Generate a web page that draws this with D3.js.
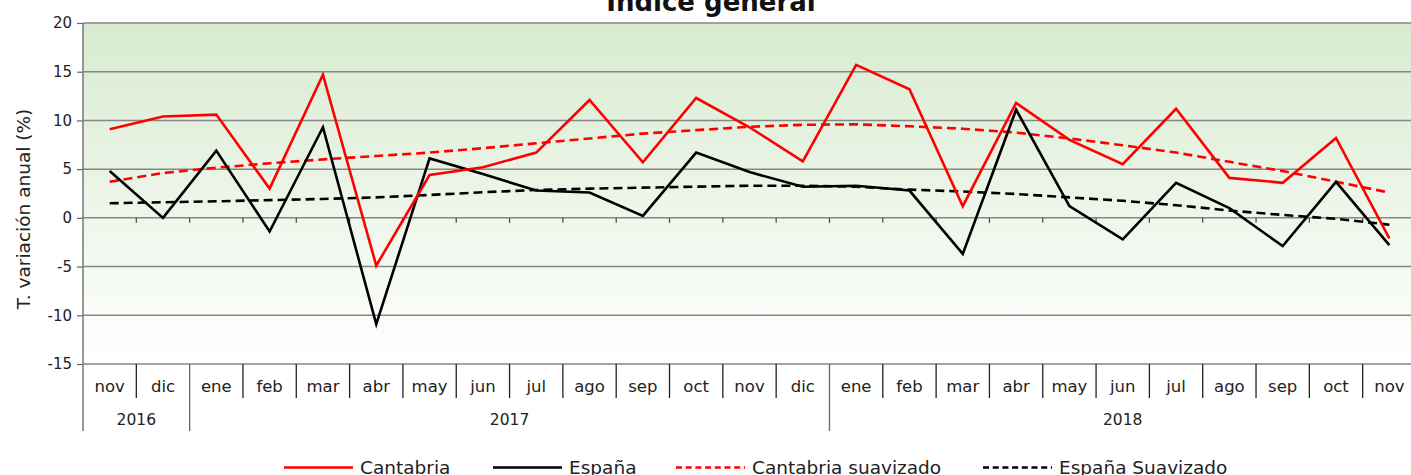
<!DOCTYPE html>
<html>
<head>
<meta charset="utf-8">
<script src="https://cdn.jsdelivr.net/npm/d3@7/dist/d3.min.js"></script>
<style>
  html, body { margin: 0; padding: 0; background: #ffffff; overflow: hidden; }
  svg { display: block; font-family: "DejaVu Sans", sans-serif; }
</style>
</head>
<body>
<svg id="chart" width="1411" height="475"></svg>
<script>
const months = ["nov","dic","ene","feb","mar","abr","may","jun","jul","ago","sep","oct","nov","dic","ene","feb","mar","abr","may","jun","jul","ago","sep","oct","nov"];
const yearOfMonth = [2016,2016,2017,2017,2017,2017,2017,2017,2017,2017,2017,2017,2017,2017,2018,2018,2018,2018,2018,2018,2018,2018,2018,2018,2018];
const yearLabels = ["2016","2017","2018"];
const yTicks = [-15,-10,-5,0,5,10,15,20];

const cantabria = [9.1,10.4,10.6,3.0,14.7,-4.9,4.4,5.2,6.7,12.1,5.7,12.3,9.3,5.8,15.7,13.2,1.2,11.8,8.0,5.5,11.2,4.1,3.6,8.2,-2.1];
const espana = [4.8,0.0,6.9,-1.4,9.3,-10.9,6.1,4.5,2.8,2.6,0.2,6.7,4.7,3.2,3.3,2.8,-3.7,11.1,1.2,-2.2,3.6,1.0,-2.9,3.7,-2.8];
const cantabriaSuav = [3.7,4.6,5.15,5.6,6.0,6.35,6.7,7.15,7.65,8.15,8.65,9.0,9.35,9.55,9.6,9.4,9.15,8.75,8.15,7.45,6.7,5.75,4.8,3.7,2.6];
const espanaSuav = [1.5,1.6,1.7,1.82,1.94,2.1,2.35,2.63,2.86,3.0,3.1,3.2,3.3,3.3,3.2,2.9,2.7,2.45,2.1,1.75,1.3,0.75,0.3,-0.1,-0.7];

const seriesNames = ["Cantabria","España","Cantabria suavizado","España Suavizado"];

const svg = d3.select("#chart");
const plotLeft = 83, plotRight = 1416, plotTop = 23, plotBottom = 364;

const x = d3.scaleBand().domain(d3.range(months.length)).range([plotLeft, plotRight]).padding(0);
const y = d3.scaleLinear().domain([-15, 20]).range([plotBottom, plotTop]);
const cx = i => x(i) + x.bandwidth() / 2;

// gradient background
const defs = svg.append("defs");
const grad = defs.append("linearGradient").attr("id","bg").attr("x1",0).attr("y1",0).attr("x2",0).attr("y2",1);
grad.append("stop").attr("offset","0%").attr("stop-color","#d8ebd0");
grad.append("stop").attr("offset","55%").attr("stop-color","#eef6ea");
grad.append("stop").attr("offset","100%").attr("stop-color","#ffffff");

svg.append("rect").attr("x", plotLeft).attr("y", plotTop).attr("width", plotRight-plotLeft).attr("height", plotBottom-plotTop).attr("fill","url(#bg)");

// gridlines
svg.append("g").selectAll("line").data(yTicks).join("line")
  .attr("x1", plotLeft).attr("x2", plotRight)
  .attr("y1", d => y(d)).attr("y2", d => y(d))
  .attr("stroke", "#868686").attr("stroke-width", 1.5);

// y axis
const yAxis = d3.axisLeft(y).tickValues(yTicks).tickFormat(d => String(d)).tickSize(6).tickPadding(5);
const gy = svg.append("g").attr("transform", `translate(${plotLeft},0)`).call(yAxis);
gy.select(".domain").remove();
gy.selectAll(".tick line").attr("stroke","#666").attr("stroke-width",1.2);
gy.selectAll(".tick text").attr("font-size", 15).attr("fill","#222").attr("font-family","DejaVu Sans");
svg.append("line").attr("x1", plotLeft).attr("x2", plotLeft).attr("y1", plotTop).attr("y2", 431)
  .attr("stroke","#777").attr("stroke-width",1.5);

// small ticks on zero line at category boundaries
const boundaries = d3.range(1, months.length).map(i => x(i));
svg.append("g").selectAll("line").data(boundaries).join("line")
  .attr("x1", d => d).attr("x2", d => d)
  .attr("y1", y(0)).attr("y2", y(0) + 5)
  .attr("stroke","#444").attr("stroke-width",1.2);

// month labels
svg.append("g").selectAll("text").data(months).join("text")
  .attr("x", (d,i) => cx(i)).attr("y", 392)
  .attr("text-anchor","middle").attr("font-size", 16.5).attr("fill","#222")
  .text(d => d);

const divs = d3.range(1, months.length);
svg.append("g").selectAll("line").data(divs).join("line")
  .attr("x1", i => x(i)).attr("x2", i => x(i))
  .attr("y1", plotBottom).attr("y2", i => yearOfMonth[i] !== yearOfMonth[i-1] ? 431 : 398)
  .attr("stroke", i => yearOfMonth[i] !== yearOfMonth[i-1] ? "#666" : "#222")
  .attr("stroke-width", 1.3);

// year labels
const yearGroups = yearLabels.map(lbl => {
  const idx = d3.range(months.length).filter(i => String(yearOfMonth[i]) === lbl);
  return {lbl, first: d3.min(idx), last: d3.max(idx)};
});
svg.append("g").selectAll("text").data(yearGroups).join("text")
  .attr("x", d => (x(d.first) + x(d.last) + x.bandwidth()) / 2)
  .attr("y", 425)
  .attr("text-anchor","middle").attr("font-size", 15.5).attr("fill","#222")
  .text(d => d.lbl);

// lines
const line = d3.line().x((d,i) => cx(i)).y(d => y(d));
const seriesData = [
  {vals: cantabriaSuav, color:"#ff0000", dash:"9,5"},
  {vals: espanaSuav, color:"#000000", dash:"9,5"},
  {vals: espana, color:"#000000", dash:null},
  {vals: cantabria, color:"#ff0000", dash:null}
];
svg.append("g").selectAll("path").data(seriesData).join("path")
  .attr("d", d => line(d.vals))
  .attr("fill","none")
  .attr("stroke", d => d.color)
  .attr("stroke-width", 2.6)
  .attr("stroke-linejoin","miter")
  .attr("stroke-dasharray", d => d.dash);

// y axis title
svg.append("text")
  .attr("transform", "translate(30,209) rotate(-90)")
  .attr("text-anchor","middle").attr("font-size", 18.5).attr("fill","#222")
  .text("T. variación anual (%)");

// title
svg.append("text")
  .attr("x", 711).attr("y", 10.5)
  .attr("text-anchor","middle").attr("font-size", 26).attr("font-weight","bold").attr("fill","#111")
  .text("Índice general");

// legend
const legendItems = [
  {name: seriesNames[0], color:"#ff0000", dash:null, pos:284},
  {name: seriesNames[1], color:"#000000", dash:null, pos:493},
  {name: seriesNames[2], color:"#ff0000", dash:"6,3.7", pos:676},
  {name: seriesNames[3], color:"#000000", dash:"6,3.7", pos:983}
];
const ly = 467.5;
const lg = svg.append("g").selectAll("g").data(legendItems).join("g")
  .attr("transform", d => `translate(${d.pos},${ly})`);
lg.append("line").attr("x1", 0).attr("x2", 69).attr("y1", 0).attr("y2", 0)
  .attr("stroke", d => d.color).attr("stroke-width", 2.6).attr("stroke-dasharray", d => d.dash);
lg.append("text").attr("x", 76).attr("y", 6.5).attr("font-size", 18.5).attr("fill","#222").text(d => d.name);
</script>
</body>
</html>
